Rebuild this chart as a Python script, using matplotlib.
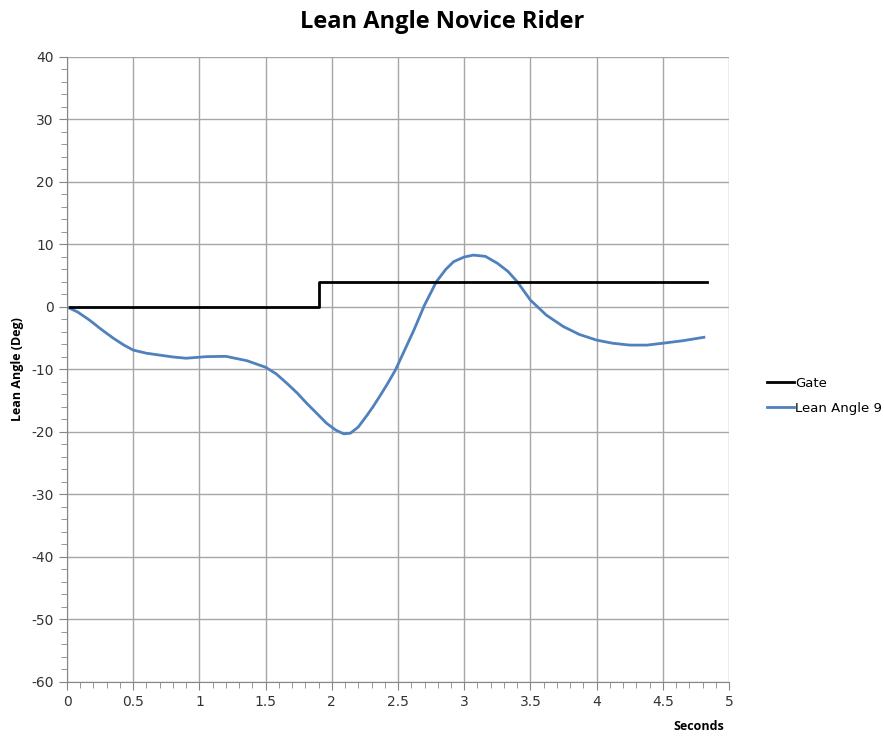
import numpy as np
import matplotlib
matplotlib.use("Agg")
import matplotlib.pyplot as plt
from matplotlib.ticker import MultipleLocator

plt.rcParams["axes.unicode_minus"] = False

# gate signal (step)
gate_t = [0.02, 1.9, 1.9, 4.83]
gate_y = [0.0, 0.0, 4.05, 4.05]

# lean angle readings
lean_t = [0.0, 0.08, 0.17, 0.26, 0.35, 0.43, 0.5, 0.6, 0.7, 0.8, 0.9, 1.05, 1.2,
          1.36, 1.5, 1.58, 1.66, 1.74, 1.81, 1.89, 1.96, 2.03, 2.09, 2.14, 2.2,
          2.26, 2.31, 2.36, 2.42, 2.48, 2.55, 2.62, 2.7, 2.79, 2.86, 2.92, 3.0,
          3.07, 3.16, 3.25, 3.33, 3.4, 3.5, 3.62, 3.75, 3.87, 4.0, 4.12, 4.25,
          4.38, 4.5, 4.65, 4.81]
lean_y = [0.0, -0.8, -2.1, -3.6, -5.0, -6.1, -6.9, -7.4, -7.7, -8.0, -8.2, -7.95, -7.9,
          -8.6, -9.65, -10.7, -12.2, -13.8, -15.4, -17.1, -18.6, -19.7, -20.3, -20.2, -19.2,
          -17.5, -16.0, -14.35, -12.3, -10.1, -6.9, -3.7, 0.3, 4.05, 6.0, 7.25, 8.0,
          8.3, 8.1, 7.0, 5.7, 4.05, 1.1, -1.3, -3.15, -4.4, -5.3, -5.8, -6.1,
          -6.1, -5.8, -5.4, -4.85]

fig = plt.figure(figsize=(8.84, 7.38), dpi=100)
ax = fig.add_axes([0.0758, 0.0759, 0.7489, 0.8469])

ax.plot(lean_t, lean_y, color="#4f81bd", linewidth=2, label="Lean Angle 9")
ax.plot(gate_t, gate_y, color="black", linewidth=2, label="Gate")

ax.set_xlim(0, 5)
ax.set_ylim(-60, 40)
ax.xaxis.set_minor_locator(MultipleLocator(0.1))
ax.yaxis.set_major_locator(MultipleLocator(10))
ax.yaxis.set_minor_locator(MultipleLocator(2))
ax.set_xticks(np.arange(0, 5.01, 0.5))
ax.set_xticklabels(["0", "0.5", "1", "1.5", "2", "2.5", "3", "3.5", "4", "4.5", "5"])

ax.grid(True, which="major", color="#a6a6a6", linewidth=1)
ax.set_axisbelow(True)
for s in ["top", "right"]:
    ax.spines[s].set_visible(False)
for s in ["left", "bottom"]:
    ax.spines[s].set_color("#868686")
ax.tick_params(which="both", colors="#868686", labelcolor="#333333", labelsize=10)
ax.tick_params(which="major", length=6)
ax.tick_params(which="minor", length=4)

fig.text(0.5, 0.97, "Lean Angle Novice Rider", ha="center", va="center",
         fontsize=17, fontweight="bold", family="Open Sans")
fig.text(0.02, 0.5, "Lean Angle (Deg)", rotation=90, ha="center", va="center",
         fontsize=9, fontweight="bold", family="Open Sans")
fig.text(0.79, 0.015, "Seconds", ha="center", va="center",
         fontsize=9, fontweight="bold", family="Open Sans")

h, l = ax.get_legend_handles_labels()
ax.legend(h[::-1], l[::-1], loc="center left", bbox_to_anchor=(1.04, 0.458),
          frameon=False, fontsize=9.5, handlelength=2.0, handletextpad=0.1,
          labelspacing=0.9)

fig.savefig("out.png", dpi=100)
